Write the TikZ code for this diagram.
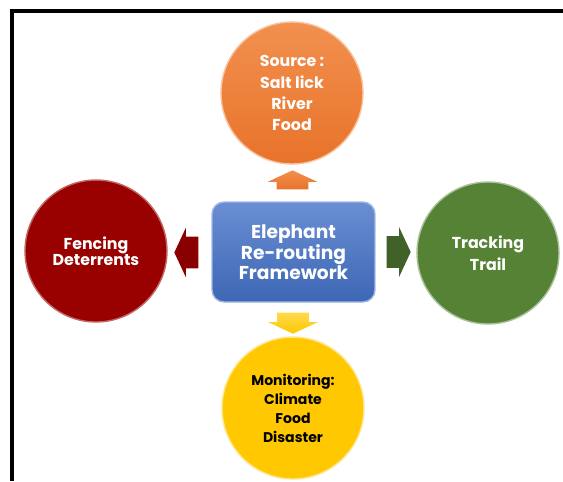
\documentclass[tikz,border=0pt]{standalone}
\usepackage{fontspec}
\setmainfont{Poppins}
\usetikzlibrary{shapes.arrows}

\definecolor{srcorange}{HTML}{F2904F}
\definecolor{srcorangedark}{HTML}{E8732A}
\definecolor{fencered}{HTML}{990000}
\definecolor{trackgreen}{HTML}{568235}
\definecolor{monyellow}{HTML}{FFC800}
\definecolor{frameblue}{HTML}{4472C8}

\tikzset{
    hub/.style={circle, minimum size=2.84cm, inner sep=0pt, align=center,
        font=\bfseries\fontsize{9}{12}\selectfont, text=white, line width=0.8pt},
    blockarrow/.style={single arrow, inner xsep=0pt, inner ysep=0.31cm, minimum width=0.98cm,
        single arrow head extend=0.18cm, single arrow tip angle=130},
    upright/.style={inner xsep=0.31cm, inner ysep=0pt}
}

\begin{document}
\begin{tikzpicture}[x=0.02cm, y=-0.02cm]
    \useasboundingbox (0,0) rectangle (563,481);
    \draw[line width=0.08cm] (12,481) -- (12,11) -- (563,11);

    % the four outer circles
    \node[hub, top color=srcorange, bottom color=srcorangedark, draw=srcorange!55!white] (source) at (292,93) {Source :\\Salt lick\\River\\Food};
    \node[hub, fill=fencered, draw=fencered!60!white, font=\bfseries\fontsize{9}{9.3}\selectfont] (fencing) at (96,251) {Fencing\\Deterrents};
    \node[hub, fill=trackgreen, draw=trackgreen!50!white, font=\bfseries\fontsize{9}{12.5}\selectfont] (tracking) at (488,253) {Tracking\\Trail};
    \node[hub, fill=monyellow, draw=monyellow!45!white, text=black, font=\bfseries\fontsize{8}{10.8}\selectfont] (monitoring) at (293,408) {Monitoring:\\Climate\\Food\\Disaster};

    % centre box
    \node[rectangle, rounded corners=0.24cm, minimum width=3.26cm, minimum height=2cm, align=center,
        top color=frameblue!80!white, bottom color=frameblue!90!black, draw=frameblue!50!white, line width=0.8pt,
        text=white, font=\bfseries\fontsize{10.6}{11.2}\selectfont] (hub) at (293.5,252) {Elephant\\Re-routing\\Framework};

    % arrows out of the box
    \node[blockarrow, upright, shape border rotate=90, minimum height=0.38cm, top color=srcorange, bottom color=srcorangedark] (toSource) at (292.5,183.5) {};
    \node[blockarrow, shape border rotate=180, minimum height=0.48cm, fill=fencered!90!black] (toFencing) at (190,252.5) {};
    \node[blockarrow, shape border rotate=0, minimum height=0.48cm, fill=trackgreen!75!black] (toTracking) at (395,252) {};
    \node[blockarrow, upright, shape border rotate=270, minimum height=0.42cm, top color=monyellow!70!white, bottom color=monyellow] (toMonitoring) at (293,319.5) {};
\end{tikzpicture}
\end{document}
